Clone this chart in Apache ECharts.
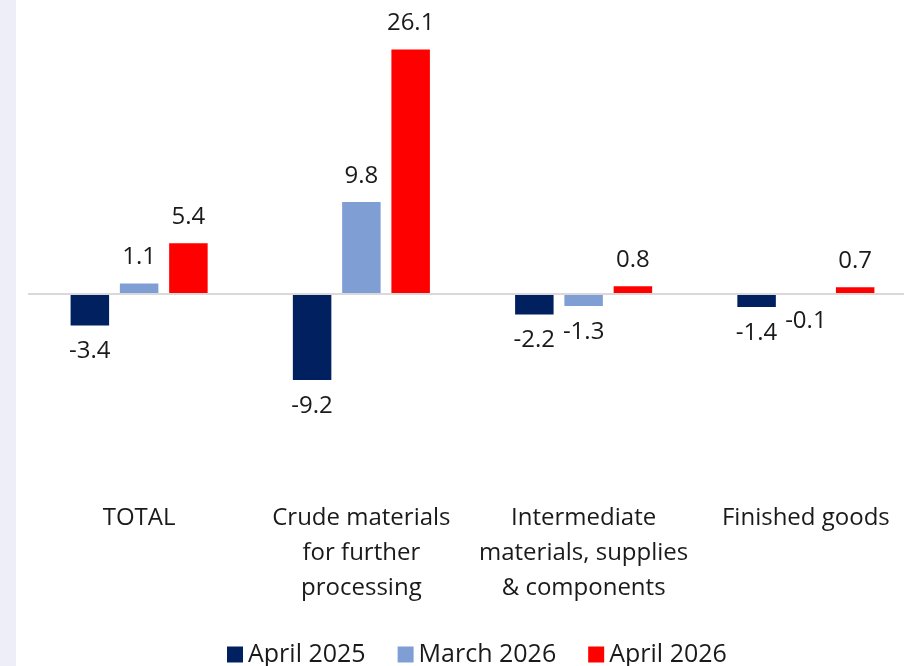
<!DOCTYPE html>
<html>
<head>
<meta charset="utf-8">
<script src="https://cdn.jsdelivr.net/npm/echarts@6/dist/echarts.min.js"></script>
<style>
  html, body { margin: 0; padding: 0; background: #ffffff; overflow: hidden; }
  /* plot runs slightly past the right edge of the page */
  #chart { width: 917px; height: 666px; }
</style>
</head>
<body>
<div id="chart"></div>
<script>
const categories = [
  'TOTAL',
  'Crude materials\nfor further\nprocessing',
  'Intermediate\nmaterials, supplies\n& components',
  'Finished goods'
];
const seriesNames = ['April 2025', 'March 2026', 'April 2026'];
const april2025 = [-3.4, -9.2, -2.2, -1.4];
const march2026 = [1.1, 9.8, -1.3, -0.1];
const april2026 = [5.4, 26.1, 0.8, 0.7];
const seriesColors = ['#002060', '#7f9fd4', '#ff0000'];

const FONT = '"Open Sans", "Noto Sans", sans-serif';
const chart = echarts.init(document.getElementById('chart'), null, { renderer: 'canvas' });

function makeSeries(name, values, color, withZeroLine) {
  const s = {
    name: name,
    type: 'bar',
    barWidth: 38.5,
    barGap: '28%',
    itemStyle: { color: color },
    label: {
      show: true,
      position: 'top',
      distance: 14,
      color: '#1a1a1a',
      fontFamily: FONT,
      fontSize: 24,
      formatter: p => p.value.toFixed(1)
    },
    // negative values get their label beneath the bar
    data: values.map(v => ({
      value: v,
      label: { position: v < 0 ? 'bottom' : 'top' }
    }))
  };
  if (withZeroLine) {
    s.markLine = {
      silent: true,
      symbol: 'none',
      label: { show: false },
      lineStyle: { color: '#d9d9d9', width: 2, type: 'solid' },
      data: [{ yAxis: 0 }]
    };
  }
  return s;
}

chart.setOption({
  animation: false,
  backgroundColor: '#ffffff',
  graphic: [{
    type: 'rect',
    left: 0, top: 0,
    shape: { width: 16, height: 666 },
    style: { fill: '#eeeef8' },
    z: -10
  }],
  grid: { left: 28, right: 0, top: 13, height: 468 },
  legend: {
    top: 637,
    left: 222,
    itemWidth: 16,
    itemHeight: 16,
    itemGap: 32,
    icon: 'rect',
    textStyle: { fontFamily: FONT, fontSize: 25, color: '#1a1a1a' },
    data: seriesNames
  },
  xAxis: {
    type: 'category',
    data: categories,
    axisLine: { show: false },
    axisTick: { show: false },
    axisLabel: {
      fontFamily: FONT,
      fontSize: 24,
      lineHeight: 35,
      color: '#1a1a1a',
      margin: 20,
      interval: 0
    }
  },
  yAxis: {
    type: 'value',
    min: -20,
    max: 30,
    show: false,
    splitLine: { show: false }
  },
  series: [
    makeSeries(seriesNames[0], april2025, seriesColors[0], true),
    makeSeries(seriesNames[1], march2026, seriesColors[1], false),
    makeSeries(seriesNames[2], april2026, seriesColors[2], false)
  ]
});
</script>
</body>
</html>
